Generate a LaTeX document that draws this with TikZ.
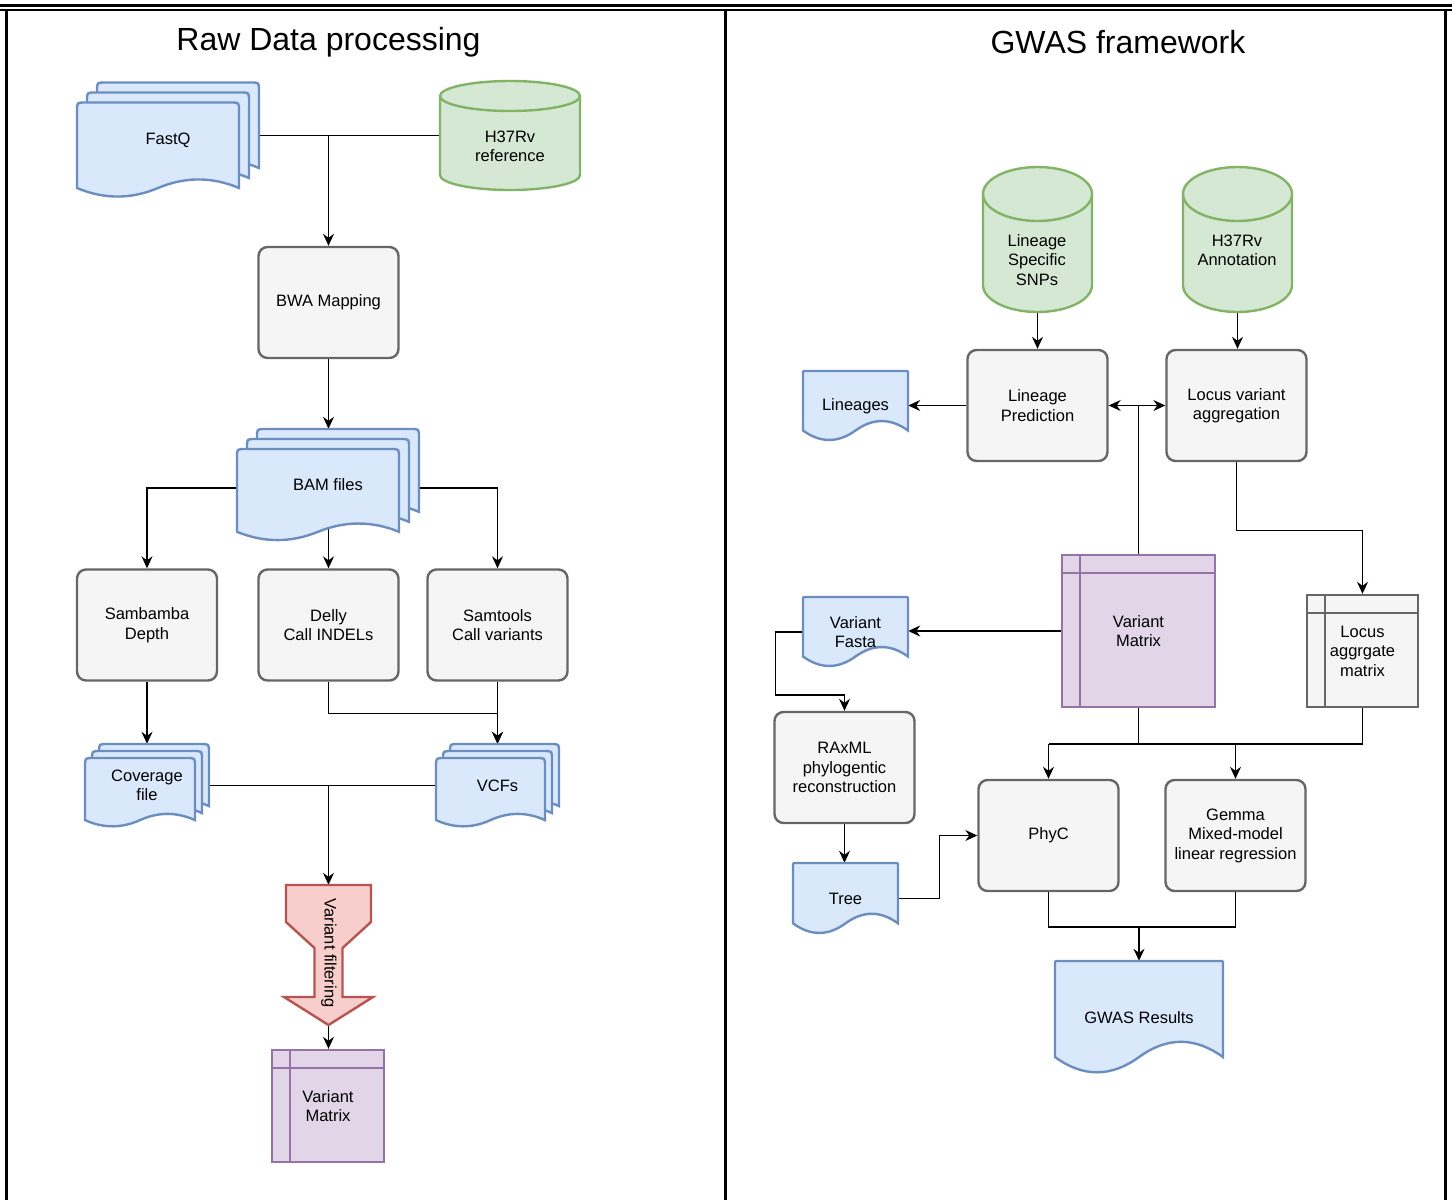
\documentclass[tikz,border=0pt]{standalone}
\usepackage{fontspec}
\setmainfont{Liberation Sans}
\usetikzlibrary{arrows.meta,calc}
\pgfdeclarelayer{edges}
\pgfdeclarelayer{shapes}
\pgfsetlayers{edges,shapes,main}

\definecolor{blueF}{HTML}{DAE8FC}\definecolor{blueD}{HTML}{6C8EBF}
\definecolor{greenF}{HTML}{D5E8D4}\definecolor{greenD}{HTML}{82B366}
\definecolor{greyF}{HTML}{F5F5F5}\definecolor{greyD}{HTML}{666666}
\definecolor{purpF}{HTML}{E1D5E7}\definecolor{purpD}{HTML}{9673A6}
\definecolor{redF}{HTML}{F8CECC}\definecolor{redD}{HTML}{B85450}

\tikzset{
  lbl/.style={font=\fontsize{16.5}{19.5}\selectfont, align=center, inner sep=0pt},
  title/.style={font=\fontsize{32}{38}\selectfont, inner sep=0pt},
  zone/.style 2 args={lbl, minimum width=#1pt, minimum height=#2pt},
  procbox/.style={lbl, draw=greyD, fill=greyF, line width=2.4pt, rounded corners=9pt,
                  minimum width=140pt, minimum height=111pt},
  storebox/.style={lbl, draw=purpD, fill=purpF, line width=2.4pt,
                   minimum width=112pt, minimum height=112pt},
  docfill/.style={draw=blueD, fill=blueF, line width=2.4pt},
  cylfill/.style={draw=greenD, fill=greenF, line width=2.4pt},
  filtfill/.style={draw=redD, fill=redF, line width=2.4pt},
  link/.style={line width=1.3pt, black},
  arr/.style={link, -{Stealth[length=12pt,width=11pt,inset=4pt]}},
  arrs/.style={link, {Stealth[length=12pt,width=11pt,inset=4pt]}-{Stealth[length=12pt,width=11pt,inset=4pt]}},
}

% document outline: node, centre x, centre y, width, height, wave ratio, top corner radius
\newcommand\docoutline[7]{%
  \filldraw[docfill, shift={(#1.center)}]
    ({(#2)-(#4)/2},{(#3)+(#5)/2-0.5*(#6)*(#5)})
    -- ({(#2)-(#4)/2},{(#3)-(#5)/2+(#7)})
    .. controls ({(#2)-(#4)/2},{(#3)-(#5)/2}) .. ({(#2)-(#4)/2+(#7)},{(#3)-(#5)/2})
    -- ({(#2)+(#4)/2-(#7)},{(#3)-(#5)/2})
    .. controls ({(#2)+(#4)/2},{(#3)-(#5)/2}) .. ({(#2)+(#4)/2},{(#3)-(#5)/2+(#7)})
    -- ({(#2)+(#4)/2},{(#3)+(#5)/2-0.5*(#6)*(#5)})
    .. controls ({(#2)+(#4)/3},{(#3)+(#5)/2-1.1*(#6)*(#5)}) and ({(#2)+(#4)/6},{(#3)+(#5)/2-1.1*(#6)*(#5)})
    .. ({#2},{(#3)+(#5)/2-0.5*(#6)*(#5)})
    .. controls ({(#2)-(#4)/6},{(#3)+(#5)/2+0.1*(#6)*(#5)}) and ({(#2)-(#4)/3},{(#3)+(#5)/2+0.1*(#6)*(#5)})
    .. ({(#2)-(#4)/2},{(#3)+(#5)/2-0.5*(#6)*(#5)})
    -- cycle;}
% single page
\newcommand\plaindoc[3]{\docoutline{#1}{0}{0}{#2}{#3}{0.3}{1}}
% three stacked pages: node, total width, total height, offset
\newcommand\multidoc[4]{%
  \foreach \k in {2,1,0}{\docoutline{#1}{(\k-1)*#4}{(1-\k)*#4}{#2-2*#4}{#3-2*#4}{0.2}{8}}}
% database drum: node, half width, half height, ellipse radius
\newcommand\drum[4]{%
  \filldraw[cylfill, shift={(#1.center)}]
    (-#2,{-#3+#4}) -- (-#2,{#3-#4})
    arc[start angle=180,end angle=360,x radius=#2pt,y radius=#4pt]
    -- (#2,{-#3+#4})
    arc[start angle=0,end angle=180,x radius=#2pt,y radius=#4pt] -- cycle;
  \draw[cylfill, fill=none, shift={(#1.center)}]
    (-#2,{-#3+#4}) arc[start angle=180,end angle=360,x radius=#2pt,y radius=#4pt];}
% inner ruling of a storage box
\newcommand\storelines[2]{%
  \draw[#2, line width=2.4pt]
    ([xshift=19pt]#1.north west) -- ([xshift=19pt]#1.south west)
    ([yshift=-19pt]#1.north west) -- ([yshift=-19pt]#1.north east);}

\begin{document}
\begin{tikzpicture}[x=1pt,y=-1pt]
\useasboundingbox (0,0) rectangle (1452,1200);

% panel frame
\draw[line width=3pt] (0,5.5) -- (1452,5.5);
\draw[line width=1.5pt] (0,10) -- (1452,10);
\draw[line width=3pt] (6,10) -- (6,1200) (725.5,10) -- (725.5,1200) (1445,10) -- (1445,1200);

\node[title] (t1) at (328.5,42) {Raw Data processing};
\node[title] (t2) at (1118,42) {GWAS framework};

% ---- raw data processing ----
\node[zone={182}{115}] (fastq) at (168,140) {FastQ};
\node[zone={140}{109}] (ref) at (510,135.5) {};
\node[lbl] (reftext) at (510,146.5) {H37Rv\\reference};
\node[procbox] (bwa) at (328.5,302.5) {BWA Mapping};
\node[zone={182}{112}] (bam) at (328,485) {BAM files};
\node[procbox] (samb) at (147,625) {Sambamba\\Depth};
\node[procbox] (delly) at (328.5,625) {Delly\\Call INDELs};
\node[procbox] (samt) at (497.5,625) {Samtools\\Call variants};
\node[zone={124}{83}] (cov) at (147,785.5) {Coverage\\file};
\node[zone={123}{83}] (vcf) at (497.5,785.5) {VCFs};
\node[zone={90}{140}] (filt) at (328.5,955) {};
\node[lbl, rotate=-90] (filttext) at (329,953) {Variant filtering};
\node[storebox] (vm1) at (328,1106) {Variant\\Matrix};
\storelines{vm1}{purpD}

% ---- GWAS framework ----
\node[zone={109}{145}] (lss) at (1037.5,239.5) {};
\node[lbl] (lsstext) at (1037,260) {Lineage\\Specific\\SNPs};
\node[zone={109}{145}] (ann) at (1237.5,239.5) {};
\node[lbl] (anntext) at (1237,250.5) {H37Rv\\Annotation};
\node[procbox] (lp) at (1037.5,405.5) {Lineage\\Prediction};
\node[procbox] (lva) at (1236.5,405.5) {Locus variant\\aggregation};
\node[zone={105}{70}] (lin) at (855.5,406) {Lineages};
\node[storebox, minimum width=153pt, minimum height=152pt] (vm2) at (1138.5,631) {Variant\\Matrix};
\storelines{vm2}{purpD}
\node[storebox, draw=greyD, fill=greyF, minimum width=111pt] (lam) at (1362.5,651) {Locus\\aggrgate\\matrix};
\storelines{lam}{greyD}
\node[zone={105}{70}] (vfa) at (855.5,632) {Variant\\Fasta};
\node[procbox] (rax) at (844.5,767.5) {RAxML\\phylogentic\\reconstruction};
\node[zone={105}{71}] (tree) at (845.5,898.5) {Tree};
\node[procbox] (phyc) at (1048.5,835.5) {PhyC};
\node[procbox] (gemma) at (1235.5,835.5) {Gemma\\Mixed-model\\linear regression};
\node[zone={168}{113}] (gwas) at (1139,1017.5) {GWAS Results};

\coordinate (busA) at (0,744);
\coordinate (busB) at (0,927);

% outlines of the drawn shapes
\begin{pgfonlayer}{shapes}
  \multidoc{fastq}{182}{115}{10}
  \multidoc{bam}{182}{112}{10}
  \multidoc{cov}{124}{83}{7}
  \multidoc{vcf}{123}{83}{7}
  \drum{ref}{70}{54.5}{15}
  \drum{lss}{54.5}{72.5}{27}
  \drum{ann}{54.5}{72.5}{27}
  \plaindoc{lin}{105}{70}
  \plaindoc{vfa}{105}{70}
  \plaindoc{tree}{105}{71}
  \plaindoc{gwas}{168}{113}
  \filldraw[filtfill, shift={(filt.center)}]
    (-42.5,-70) -- (42.5,-70) -- (42.5,-33) -- (14,-7) -- (14,42) -- (44.5,42)
    -- (0,70) -- (-44.5,42) -- (-14,42) -- (-14,-7) -- (-42.5,-33) -- cycle;
\end{pgfonlayer}

% connectors
\begin{pgfonlayer}{edges}
  \draw[link] (fastq.east |- ref.west) -- (ref.west);
  \draw[arr] (bwa.north |- ref.west) -- (bwa.north);
  \draw[arr] (bwa.south) -- (bwa.south |- bam.north);
  \draw[arr] ([yshift=-3pt]bam.west) -| (samb.north);
  \draw[arr] ([yshift=-3pt]bam.east) -| (samt.north);
  \draw[arr] (delly.north |- bam.center) -- (delly.north);
  \draw[arr] (samb.south) -- (samb.south |- cov.north);
  \draw[arr] (delly.south) -- ++(0,32) -| (vcf.north);
  \draw[arr] (samt.south) -- (samt.south |- vcf.north);
  \draw[link] (cov.east) -- (vcf.west);
  \draw[arr] (filt.north |- cov.east) -- (filt.north);
  \draw[arr] (filt.south) -- (filt.south |- vm1.north);

  \draw[arr] (lss.south) -- (lss.south |- lp.north);
  \draw[arr] (ann.south) -- (ann.south |- lva.north);
  \draw[arr] (lp.west) -- (lp.west -| lin.east);
  \draw[arrs] (lp.east) -- (lva.west);
  \draw[link] (vm2.north) -- (vm2.north |- lp.east);
  \draw[arr] (lva.south) -- ++(0,68) -| (lam.north);
  \draw[arr] (vm2.west) -- (vm2.west -| vfa.east);
  \draw[arr] (vfa.west) -- ++(-27,0) -- ++(0,63) -| (rax.north);
  \draw[arr] (rax.south) -- (rax.south |- tree.north);
  \draw[arr] (tree.east) -- ++(41,0) |- (phyc.west);
  \draw[link] (vm2.south) -- (vm2.south |- busA);
  \draw[link] (lam.south) |- (phyc.north |- busA);
  \draw[arr] (phyc.north |- busA) -- (phyc.north);
  \draw[arr] (gemma.north |- busA) -- (gemma.north);
  \draw[link] (phyc.south) |- (busB -| gemma.south) -- (gemma.south);
  \draw[arr] (gwas.north |- busB) -- (gwas.north);
\end{pgfonlayer}
\end{tikzpicture}
\end{document}
